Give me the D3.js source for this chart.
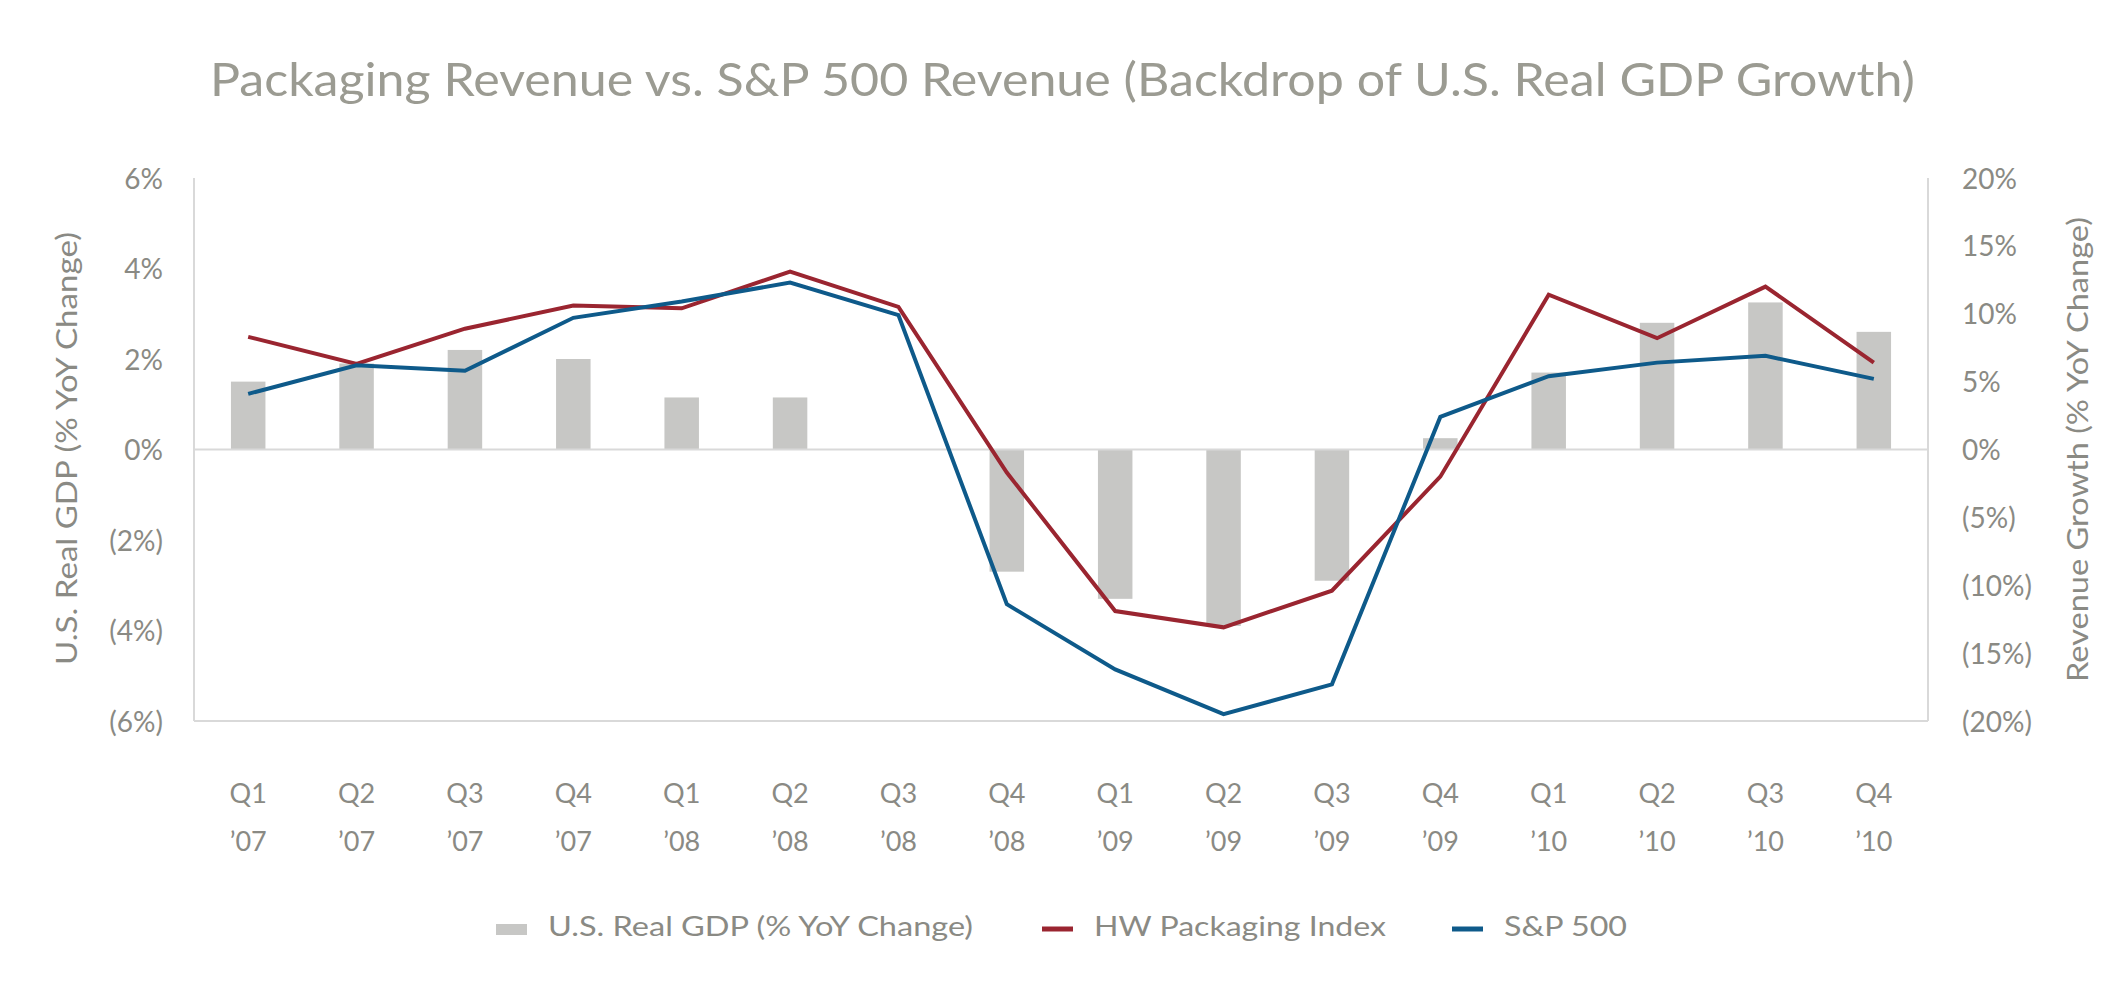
<!DOCTYPE html>
<html>
<head>
<meta charset="utf-8">
<script src="https://cdn.jsdelivr.net/npm/d3@7/dist/d3.min.js"></script>
<style>
  html, body { margin: 0; padding: 0; background: #ffffff; }
  svg { display: block; }
  text { font-family: Lato, "Open Sans", sans-serif; }
</style>
</head>
<body>
<svg id="chart" width="2125" height="1000"></svg>
<script>
// ---- Data ----
const quarters = ["Q1","Q2","Q3","Q4","Q1","Q2","Q3","Q4","Q1","Q2","Q3","Q4","Q1","Q2","Q3","Q4"];
const years    = ["’07","’07","’07","’07","’08","’08","’08","’08","’09","’09","’09","’09","’10","’10","’10","’10"];
const categories = quarters.map((q, i) => q + " " + years[i]);
const gdp       = [1.5, 1.9, 2.2, 2.0, 1.15, 1.15, 0.0, -2.7, -3.3, -3.9, -2.9, 0.25, 1.7, 2.8, 3.25, 2.6];
const packaging = [8.3, 6.3, 8.9, 10.6, 10.4, 13.1, 10.5, -1.7, -11.9, -13.1, -10.4, -2.0, 11.4, 8.2, 12.0, 6.4];
const sp500     = [4.1, 6.2, 5.8, 9.7, 10.9, 12.3, 9.9, -11.4, -16.2, -19.5, -17.3, 2.4, 5.4, 6.4, 6.9, 5.2];
const leftTicks  = [-6, -4, -2, 0, 2, 4, 6];
const rightTicks = [-20, -15, -10, -5, 0, 5, 10, 15, 20];
const seriesNames = ["U.S. Real GDP (% YoY Change)", "HW Packaging Index", "S&P 500"];
const titleText = "Packaging Revenue vs. S&P 500 Revenue (Backdrop of U.S. Real GDP Growth)";

// ---- Styles ----
const textColor = "#8a8a84";
const titleColor = "#9b9b92";
const gridColor = "#d9d9d9";
const barColor = "#c7c7c5";
const redColor = "#9a2530";
const blueColor = "#0e5a8a";

const svg = d3.select("#chart");
const L = 194, R = 1928, T = 178, B = 721;

const x = d3.scaleBand().domain(categories).range([L, R]).padding(0);
const yL = d3.scaleLinear().domain([-6, 6]).range([B, T]);
const yR = d3.scaleLinear().domain([-20, 20]).range([B, T]);

const fmt = v => v < 0 ? "(" + Math.abs(v) + "%)" : v + "%";

// Title
svg.append("text")
  .attr("x", 210).attr("y", 96)
  .attr("font-size", 46)
  .attr("fill", titleColor)
  .attr("textLength", 1705).attr("lengthAdjust", "spacingAndGlyphs")
  .text(titleText);

// Frame lines
const frame = svg.append("g").attr("stroke", gridColor).attr("stroke-width", 2);
frame.append("line").attr("x1", L).attr("x2", L).attr("y1", T).attr("y2", B);
frame.append("line").attr("x1", R).attr("x2", R).attr("y1", T).attr("y2", B);
frame.append("line").attr("x1", L).attr("x2", R).attr("y1", B).attr("y2", B);

// Bars
const bw = 34.5;
svg.append("g").selectAll("rect").data(gdp).join("rect")
  .attr("x", (d, i) => x(categories[i]) + x.bandwidth() / 2 - bw / 2)
  .attr("width", bw)
  .attr("y", d => Math.min(yL(d), yL(0)))
  .attr("height", d => Math.abs(yL(d) - yL(0)))
  .attr("fill", barColor);

// Zero line
svg.append("line")
  .attr("x1", L).attr("x2", R).attr("y1", yL(0)).attr("y2", yL(0))
  .attr("stroke", gridColor).attr("stroke-width", 2);

// Lines
const lineGen = d3.line()
  .x((d, i) => x(categories[i]) + x.bandwidth() / 2)
  .y(d => yR(d));
svg.append("path").datum(packaging)
  .attr("d", lineGen).attr("fill", "none")
  .attr("stroke", redColor).attr("stroke-width", 4).attr("stroke-linejoin", "miter");
svg.append("path").datum(sp500)
  .attr("d", lineGen).attr("fill", "none")
  .attr("stroke", blueColor).attr("stroke-width", 4).attr("stroke-linejoin", "miter");

// Left axis
const gLeft = svg.append("g").attr("transform", `translate(${L},0)`)
  .call(d3.axisLeft(yL).tickValues(leftTicks).tickFormat(fmt).tickSize(0).tickPadding(31));
gLeft.select(".domain").remove();
gLeft.selectAll("text").attr("font-size", 28).attr("fill", textColor)
  .attr("font-family", "Lato, sans-serif").attr("dy", "0.36em");

// Right axis
const gRight = svg.append("g").attr("transform", `translate(${R},0)`)
  .call(d3.axisRight(yR).tickValues(rightTicks).tickFormat(fmt).tickSize(0).tickPadding(34));
gRight.select(".domain").remove();
gRight.selectAll("text").attr("font-size", 28).attr("fill", textColor)
  .attr("font-family", "Lato, sans-serif").attr("dy", "0.36em");

// Bottom axis (two-line labels)
const gBottom = svg.append("g").attr("transform", `translate(0,${B})`)
  .call(d3.axisBottom(x).tickSize(0).tickFormat(() => ""));
gBottom.select(".domain").remove();
gBottom.selectAll(".tick").each(function(d, i) {
  const t = d3.select(this).append("text")
    .attr("text-anchor", "middle")
    .attr("font-size", 27)
    .attr("font-family", "Lato, sans-serif")
    .attr("fill", textColor);
  t.append("tspan").attr("x", 0).attr("y", 82).text(quarters[i]);
  t.append("tspan").attr("x", 0).attr("y", 130).text(years[i]);
});

// Axis titles
svg.append("text")
  .attr("transform", `translate(77,665) rotate(-90)`)
  .attr("font-size", 29).attr("fill", textColor)
  .attr("textLength", 433).attr("lengthAdjust", "spacingAndGlyphs")
  .text("U.S. Real GDP (% YoY Change)");
svg.append("text")
  .attr("transform", `translate(2088,682) rotate(-90)`)
  .attr("font-size", 29).attr("fill", textColor)
  .attr("textLength", 465).attr("lengthAdjust", "spacingAndGlyphs")
  .text("Revenue Growth (% YoY Change)");

// Legend
const legend = svg.append("g");
const legY = 936;
legend.append("rect").attr("x", 496).attr("y", legY - 12).attr("width", 31).attr("height", 11).attr("fill", barColor);
legend.append("text").attr("x", 548).attr("y", legY).attr("font-size", 26).attr("fill", textColor)
  .attr("textLength", 425).attr("lengthAdjust", "spacingAndGlyphs").text(seriesNames[0]);
legend.append("line").attr("x1", 1042).attr("x2", 1073).attr("y1", legY - 7).attr("y2", legY - 7)
  .attr("stroke", redColor).attr("stroke-width", 5);
legend.append("text").attr("x", 1094).attr("y", legY).attr("font-size", 26).attr("fill", textColor)
  .attr("textLength", 292).attr("lengthAdjust", "spacingAndGlyphs").text(seriesNames[1]);
legend.append("line").attr("x1", 1452).attr("x2", 1483).attr("y1", legY - 7).attr("y2", legY - 7)
  .attr("stroke", blueColor).attr("stroke-width", 5);
legend.append("text").attr("x", 1504).attr("y", legY).attr("font-size", 26).attr("fill", textColor)
  .attr("textLength", 123).attr("lengthAdjust", "spacingAndGlyphs").text(seriesNames[2]);
</script>
</body>
</html>
